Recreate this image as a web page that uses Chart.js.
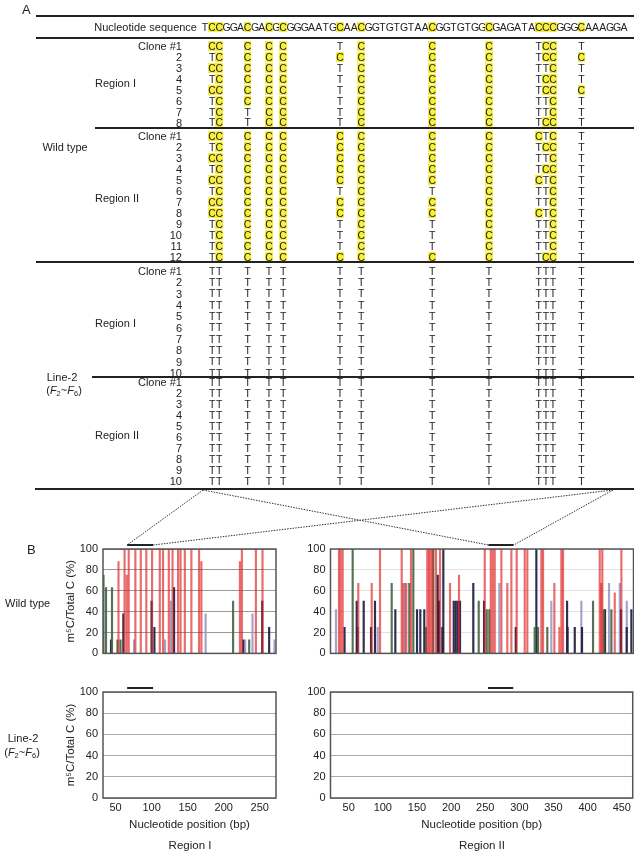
<!DOCTYPE html>
<html>
<head>
<meta charset="utf-8">
<script src="https://cdn.jsdelivr.net/npm/chart.js@4.4.1/dist/chart.umd.min.js"></script>
<style>
html, body { margin: 0; padding: 0; background: #fff; }
body { width: 634px; height: 852px; position: relative; overflow: hidden;
       font-family: "Liberation Sans", Arial, Helvetica, sans-serif; color: #222; }
#tbl { position: absolute; left: 0; top: 0; width: 634px; height: 852px; will-change: transform; }
.t { position: absolute; white-space: nowrap; font-size: 11px; line-height: 13px; }
.t sub { font-size: 7.5px; vertical-align: -2px; line-height: 0; }
.cell { position: absolute; width: 7.6px; height: 10.5px; line-height: 10.5px; text-align: center; font-size: 10.5px; color: #222; }
.hl { background: #f8ef3c; }
.rule { position: absolute; background: #222; }
canvas { position: absolute; }
</style>
</head>
<body>
<div id="tbl"></div>
<canvas id="wt1" width="240" height="130" style="left:40px;top:535px"></canvas>
<canvas id="wt2" width="344" height="130" style="left:290px;top:535px"></canvas>
<canvas id="ln1" width="240" height="160" style="left:40px;top:678px"></canvas>
<canvas id="ln2" width="344" height="160" style="left:290px;top:678px"></canvas>
<script>
// ---- panel A: bisulfite sequencing ----
const sequence = "TCCGGACGACGCGGGAATGCAACGGTGTGTAACGGTGTGGCGAGATACCCGGGCAAAGGA";
const sitePositions = [1, 2, 6, 9, 11, 19, 22, 32, 40, 47, 48, 49, 53];

const wtRegion1Clones = [
  "CCCCCTCCCTCCT", "TCCCCCCCCTCCC", "CCCCCTCCCTTCT", "TCCCCTCCCTCCT",
  "CCCCCTCCCTCCC", "TCCCCTCCCTTCT", "TCTCCTCCCTTCT", "TCTCCTCCCTCCT"
];
const wtRegion2Clones = [
  "CCCCCCCCCCTCT", "TCCCCCCCCTCCT", "CCCCCCCCCTTCT", "TCCCCCCCCTCCT",
  "CCCCCCCCCCTCT", "TCCCCTCTCTTCT", "CCCCCCCCCTTCT", "CCCCCCCCCCTCT",
  "TCCCCTCTCTTCT", "TCCCCTCTCTTCT", "TCCCCTCTCTTCT", "TCCCCCCCCTCCT"
];
const line2Region1Clones = [
  "TTTTTTTTTTTTT", "TTTTTTTTTTTTT", "TTTTTTTTTTTTT", "TTTTTTTTTTTTT", "TTTTTTTTTTTTT",
  "TTTTTTTTTTTTT", "TTTTTTTTTTTTT", "TTTTTTTTTTTTT", "TTTTTTTTTTTTT", "TTTTTTTTTTTTT"
];
const line2Region2Clones = [
  "TTTTTTTTTTTTT", "TTTTTTTTTTTTT", "TTTTTTTTTTTTT", "TTTTTTTTTTTTT", "TTTTTTTTTTTTT",
  "TTTTTTTTTTTTT", "TTTTTTTTTTTTT", "TTTTTTTTTTTTT", "TTTTTTTTTTTTT", "TTTTTTTTTTTTT"
];

// ---- panel B: m5C / total C per position (bp, %) ----
const wt1RedPos = [54, 62.4, 65.4, 68.2, 77.4, 84.9, 92.6, 100.6, 111.3, 115.8, 123.8, 129, 136.7, 140.1, 146, 155.1, 165.8, 169, 222.4, 225.2, 244.6, 253.8];
const wt1RedVal = [88, 100, 75, 100, 100, 100, 100, 100, 100, 100, 100, 100, 100, 100, 100, 100, 100, 88, 88, 100, 100, 100];
const wt1GreenPos = [33.2, 36.7, 45, 52.6, 56.8, 213, 235.3];
const wt1GreenVal = [75, 63, 63, 13, 13, 50, 13];
const wt1NavyPos = [43.6, 60.7, 99.9, 103.8, 131.1, 227, 253.4, 263];
const wt1NavyVal = [13, 38, 50, 25, 63, 13, 50, 25];
const wt1LavPos = [75.6, 118.6, 126.5, 174.9, 229.7, 239.9, 270.4];
const wt1LavVal = [13, 13, 50, 38, 13, 38, 13];

const wt2RedPos = [35.8, 38.3, 41.2, 64, 83.6, 95.7, 127.4, 129.8, 134.1, 141, 164.8, 167.3, 169.8, 172.4, 177.5, 183.4, 198, 211.1, 248.7, 257.5, 260.4, 263.3, 273, 281.7, 287.6, 295.4, 307.1, 310.9, 331.4, 333.9, 350.4, 357.7, 360.6, 363.1, 416.7, 419, 420.5, 438.6, 448.3];
const wt2RedVal = [100, 100, 100, 67, 67, 100, 100, 67, 67, 100, 100, 100, 100, 100, 100, 100, 67, 75, 100, 100, 100, 100, 100, 67, 100, 100, 100, 100, 100, 100, 67, 25, 100, 100, 100, 67, 100, 58, 100];
const wt2GreenPos = [55.8, 112.8, 138.5, 144.4, 162.9, 173.6, 239.9, 251.6, 255.4, 321.7, 326.6, 340.1, 406.9, 422.6, 433.7];
const wt2GreenVal = [100, 67, 67, 100, 25, 100, 50, 42, 42, 25, 25, 25, 50, 42, 42];
const wt2NavyPos = [43.9, 61.7, 62.9, 71.9, 82.6, 88.4, 118.1, 149.8, 154.6, 160.4, 180, 181.9, 186.7, 188.2, 203.4, 206.3, 209.2, 212.6, 232, 247.7, 294, 324.1, 369, 369.7, 380.2, 390.8, 424.4, 447.8, 456.1, 462.9];
const wt2NavyVal = [25, 50, 25, 50, 25, 50, 42, 42, 42, 42, 75, 50, 25, 100, 50, 50, 50, 50, 67, 50, 25, 100, 50, 25, 25, 25, 42, 42, 25, 42];
const wt2LavPos = [31.4, 92.4, 132.2, 270, 346, 389.8, 430.3, 446, 456.2];
const wt2LavVal = [42, 25, 67, 67, 50, 50, 67, 67, 50];

// region marked by the zoom bars (bp)
const region1Span = [66, 102];
const region2Span = [254, 291];
const region1Range = [32.5, 272.5];
const region2Range = [23.4, 466];
const yTicks = [0, 20, 40, 60, 80, 100];

const RED = 'rgba(222,32,32,0.66)';
const GREEN = 'rgba(70,102,70,0.92)';
const NAVY = 'rgba(34,34,70,0.95)';
const LAV = 'rgba(148,148,190,0.85)';

const page = document.getElementById('tbl');

function txt(html, x, y, align, size) {
  const d = document.createElement('div');
  d.className = 't';
  d.innerHTML = html;
  d.style.left = x + 'px';
  d.style.top = y + 'px';
  if (size) d.style.fontSize = size + 'px';
  const tx = align === 'center' ? '-50%' : align === 'right' ? '-100%' : '0';
  d.style.transform = 'translate(' + tx + ', -50%)';
  page.appendChild(d);
  return d;
}

function rule(x1, x2, y, w) {
  const d = document.createElement('div');
  d.className = 'rule';
  d.style.left = x1 + 'px';
  d.style.width = (x2 - x1) + 'px';
  d.style.top = (y - w / 2) + 'px';
  d.style.height = w + 'px';
  page.appendChild(d);
}

function cell(ch, x, y, highlight) {
  const d = document.createElement('div');
  d.className = 'cell' + (highlight ? ' hl' : '');
  d.textContent = ch;
  d.style.left = (x - 3.8) + 'px';
  d.style.top = (y - 5.25) + 'px';
  page.appendChild(d);
}

const seqX = i => 201.5 + (i + 0.5) * 7.1;

// panel A
txt('A', 22, 9, 'left', 13);
rule(36, 634, 16, 1.5);
txt('Nucleotide sequence', 197, 27, 'right');
for (let i = 0; i < sequence.length; i++) {
  cell(sequence[i], seqX(i), 27, sitePositions.includes(i));
}
rule(36, 634, 38, 1.5);

const blocks = [
  { clones: wtRegion1Clones, y0: 46, step: 10.96, name: 'Region I', ly: 83 },
  { clones: wtRegion2Clones, y0: 136, step: 11, name: 'Region II', ly: 198 },
  { clones: line2Region1Clones, y0: 271, step: 11.33, name: 'Region I', ly: 323 },
  { clones: line2Region2Clones, y0: 382, step: 11, name: 'Region II', ly: 435 }
];
blocks.forEach(b => {
  txt(b.name, 95, b.ly, 'left');
  b.clones.forEach((c, r) => {
    const y = b.y0 + r * b.step;
    txt(r === 0 ? 'Clone #1' : String(r + 1), 182, y, 'right');
    for (let k = 0; k < c.length; k++) cell(c[k], seqX(sitePositions[k]), y, c[k] === 'C');
  });
});
rule(95, 634, 128, 1.5);
rule(36, 634, 262, 2.5);
rule(92, 634, 377, 1.5);
rule(35, 634, 489, 2.5);
txt('Wild type', 65, 147, 'center');
txt('Line-2', 62, 377, 'center');
txt('(<i>F</i><sub>2</sub>~<i>F</i><sub>6</sub>)', 64, 390, 'center');

// panel B labels
txt('B', 27, 549, 'left', 13);
txt('Wild type', 5, 603, 'left');
txt('Line-2', 23, 738, 'center');
txt('(<i>F</i><sub>2</sub>~<i>F</i><sub>6</sub>)', 22, 752, 'center');
txt('Region I', 190, 845, 'center', 11.5);
txt('Region II', 482, 845, 'center', 11.5);

// ---- charts ----
Chart.defaults.font.family = '"Liberation Sans", Arial, Helvetica, sans-serif';
Chart.defaults.color = '#222';

const pts = (p, v) => p.map((x, i) => ({ x: x, y: v[i] }));

const framePlugin = {
  id: 'frame',
  afterDraw(chart, args, opts) {
    const { ctx, chartArea: a } = chart;
    const x = chart.scales.x;
    ctx.save();
    ctx.strokeStyle = '#555';
    ctx.lineWidth = 1.5;
    ctx.strokeRect(a.left, a.top, a.right - a.left, a.bottom - a.top);
    if (opts.span) {
      ctx.strokeStyle = '#222';
      ctx.lineWidth = 2;
      ctx.beginPath();
      ctx.moveTo(x.getPixelForValue(opts.span[0]), a.top - 4);
      ctx.lineTo(x.getPixelForValue(opts.span[1]), a.top - 4);
      ctx.stroke();
    }
    ctx.restore();
  }
};

function bpChart(id, cfg) {
  return new Chart(document.getElementById(id), {
    type: 'bar',
    data: { datasets: cfg.datasets },
    options: {
      responsive: false,
      animation: false,
      devicePixelRatio: 1,
      layout: { padding: cfg.padding },
      datasets: { bar: { grouped: false, barThickness: 1.5, borderWidth: 0 } },
      plugins: {
        legend: { display: false },
        tooltip: { enabled: false },
        frame: { span: cfg.span }
      },
      scales: {
        x: {
          type: 'linear',
          offset: false,
          min: cfg.range[0],
          max: cfg.range[1],
          display: cfg.showX,
          grid: { display: false, drawTicks: false, offset: false },
          border: { display: false },
          ticks: { stepSize: 50, includeBounds: false, padding: 3, maxRotation: 0, autoSkip: false, font: { size: 11 }, color: '#222' },
          title: { display: true, text: 'Nucleotide position (bp)', font: { size: 11.5 }, color: '#222', padding: { top: 1, bottom: 0 } }
        },
        y: {
          min: 0,
          max: 100,
          afterBuildTicks: s => { s.ticks = yTicks.map(v => ({ value: v })); },
          grid: { color: cfg.gridColor, lineWidth: 1, drawTicks: false },
          border: { display: false },
          ticks: { padding: 5, autoSkip: false, font: { size: 11 }, color: '#222' },
          title: { display: cfg.yTitle, text: 'm\u2075C/Total C (%)', font: { size: 11.5 }, color: '#222', padding: { top: 23.8, bottom: 0 } },
          afterFit: s => { s.width = cfg.yWidth; }
        }
      }
    },
    plugins: [framePlugin]
  });
}

function contextSets(red, green, navy, lav) {
  return [
    { data: red, backgroundColor: RED },
    { data: green, backgroundColor: GREEN },
    { data: navy, backgroundColor: NAVY },
    { data: lav, backgroundColor: LAV }
  ];
}

const wt1 = bpChart('wt1', {
  datasets: contextSets(pts(wt1RedPos, wt1RedVal), pts(wt1GreenPos, wt1GreenVal), pts(wt1NavyPos, wt1NavyVal), pts(wt1LavPos, wt1LavVal)),
  range: region1Range, span: region1Span, showX: false, yTitle: true, yWidth: 63,
  gridColor: '#9a9a9a', padding: { top: 14, right: 4, bottom: 0, left: 0 }
});
const wt2 = bpChart('wt2', {
  datasets: contextSets(pts(wt2RedPos, wt2RedVal), pts(wt2GreenPos, wt2GreenVal), pts(wt2NavyPos, wt2NavyVal), pts(wt2LavPos, wt2LavVal)),
  range: region2Range, span: region2Span, showX: false, yTitle: false, yWidth: 40.5,
  gridColor: '#e2e2e2', padding: { top: 14, right: 0.5, bottom: 0, left: 0 }
});
bpChart('ln1', {
  datasets: [],
  range: region1Range, span: region1Span, showX: true, yTitle: true, yWidth: 63,
  gridColor: '#aaaaaa', padding: { top: 14, right: 4, bottom: 6, left: 0 }
});
bpChart('ln2', {
  datasets: [],
  range: region2Range, span: region2Span, showX: true, yTitle: false, yWidth: 40.5,
  gridColor: '#aaaaaa', padding: { top: 14, right: 0.5, bottom: 6, left: 0 }
});

// dotted zoom lines from the table to the marked spans
const NS = 'http://www.w3.org/2000/svg';
const svg = document.createElementNS(NS, 'svg');
svg.setAttribute('width', 634);
svg.setAttribute('height', 852);
svg.style.position = 'absolute';
svg.style.left = '0';
svg.style.top = '0';
document.body.appendChild(svg);
function dotted(x1, y1, x2, y2) {
  const l = document.createElementNS(NS, 'line');
  l.setAttribute('x1', x1); l.setAttribute('y1', y1);
  l.setAttribute('x2', x2); l.setAttribute('y2', y2);
  l.setAttribute('stroke', '#333');
  l.setAttribute('stroke-width', '1');
  l.setAttribute('stroke-dasharray', '1.5 1.2');
  svg.appendChild(l);
}
function spanEnds(chart, left, top, span) {
  const y = top + chart.chartArea.top - 4;
  return [[left + chart.scales.x.getPixelForValue(span[0]), y], [left + chart.scales.x.getPixelForValue(span[1]), y]];
}
const e1 = spanEnds(wt1, 40, 535, region1Span);
const e2 = spanEnds(wt2, 290, 535, region2Span);
dotted(203, 490, e1[0][0], e1[0][1]);
dotted(613, 490, e1[1][0], e1[1][1]);
dotted(203, 490, e2[0][0], e2[0][1]);
dotted(613, 490, e2[1][0], e2[1][1]);
</script>
</body>
</html>
